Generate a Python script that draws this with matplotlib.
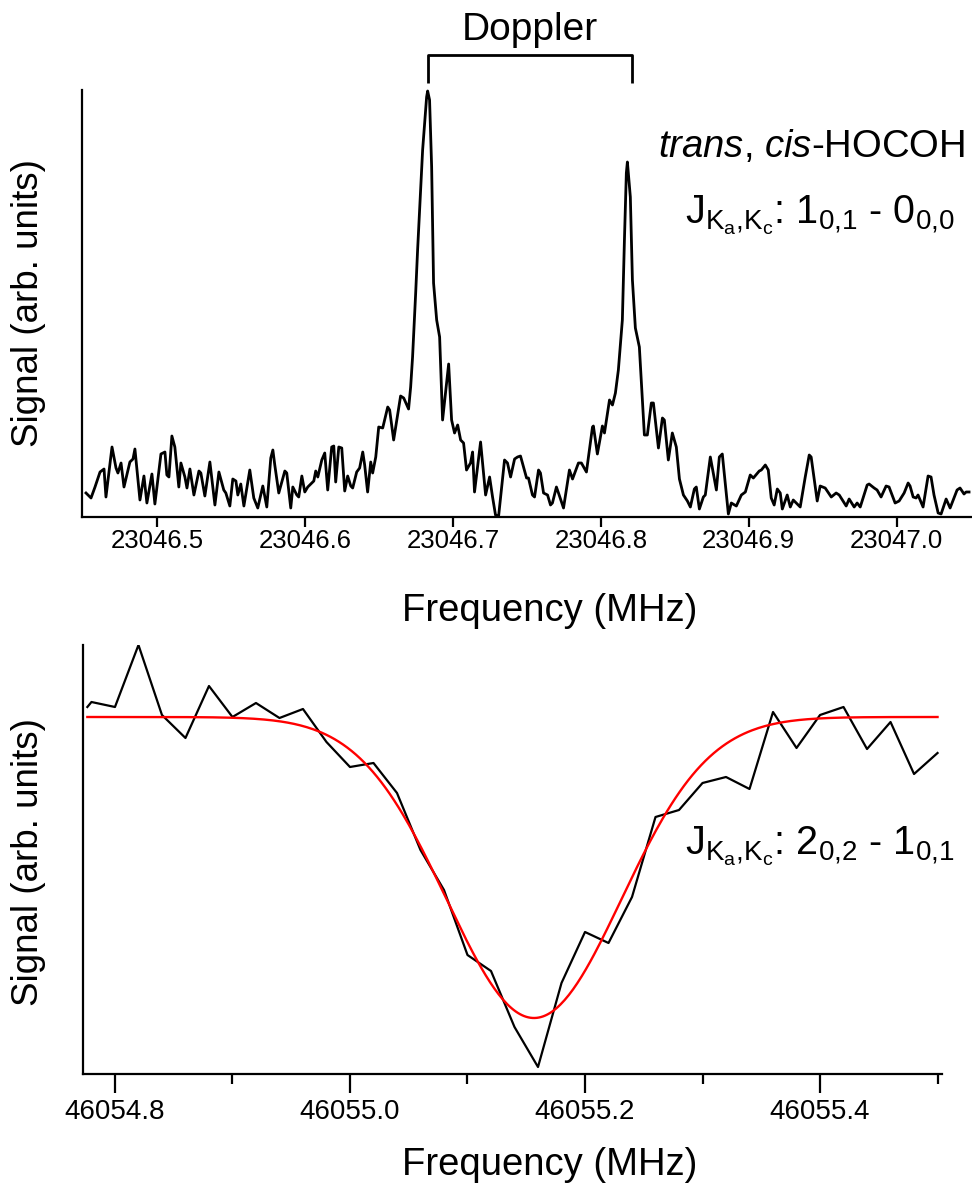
import numpy as np
import matplotlib
matplotlib.use('Agg')
import matplotlib.pyplot as plt
import matplotlib.transforms as mtransforms

plt.rcParams['font.family'] = ['Liberation Sans', 'DejaVu Sans']
plt.rcParams['mathtext.fontset'] = 'custom'
plt.rcParams['mathtext.rm'] = 'Liberation Sans'
plt.rcParams['mathtext.it'] = 'Liberation Sans:italic'

# ---- top panel: trans,cis-HOCOH 1(0,1)-0(0,0), offsets from 23046 MHz
top_base = 23046.0
top_offset = [
    .4517, .4551, .4578, .4612, .4639, .4652, .4693, .4720, .4733, .4754,
    .4774, .4814, .4835, .4848, .4882, .4909, .4929, .4963, .4983, .5024,
    .5051, .5064, .5078, .5098, .5118, .5145, .5159, .5186, .5200, .5220,
    .5247, .5281, .5294, .5321, .5355, .5389, .5416, .5449, .5463, .5490,
    .5510, .5531, .5544, .5564, .5585, .5625, .5652, .5679, .5713, .5740,
    .5767, .5781, .5794, .5821, .5862, .5875, .5902, .5916, .5943, .5956,
    .5977, .5997, .6017, .6044, .6058, .6071, .6085, .6112, .6132, .6152,
    .6179, .6193, .6206, .6227, .6247, .6267, .6287, .6308, .6321, .6348,
    .6368, .6389, .6402, .6422, .6443, .6456, .6477, .6497, .6524, .6558,
    .6571, .6598, .6645, .6666, .6699, .6713, .6726, .6747, .6760, .6794,
    .6821, .6828, .6841, .6855, .6868, .6889, .6909, .6929, .6970, .6990,
    .7010, .7031, .7051, .7071, .7091, .7118, .7132, .7145, .7186, .7220,
    .7247, .7267, .7287, .7308, .7348, .7368, .7389, .7416, .7436, .7456,
    .7497, .7510, .7537, .7551, .7578, .7591, .7612, .7639, .7659, .7672,
    .7699, .7713, .7747, .7787, .7808, .7848, .7868, .7902, .7943, .7949,
    .7976, .8010, .8024, .8058, .8078, .8098, .8118, .8145, .8159, .8172,
    .8179, .8199, .8213, .8233, .8260, .8294, .8314, .8341, .8355, .8382,
    .8389, .8416, .8429, .8456, .8483, .8510, .8531, .8558, .8585, .8605,
    .8632, .8645, .8666, .8693, .8706, .8740, .8781, .8801, .8821, .8862,
    .8882, .8916, .8950, .8977, .9010, .9031, .9071, .9085, .9112, .9132,
    .9152, .9172, .9193, .9213, .9227, .9260, .9281, .9301, .9321, .9348,
    .9382, .9409, .9422, .9463, .9483, .9517, .9558, .9591, .9612, .9659,
    .9679, .9713, .9733, .9754, .9801, .9814, .9848, .9868, .9895, .9929,
    .9949, .9990, 1.0017, 1.0051, 1.0078, 1.0091, 1.0112, 1.0132, 1.0145, 1.0179,
    1.0213, 1.0233, 1.0253, 1.0281, 1.0301, 1.0335, 1.0362, 1.0409, 1.0429, 1.0456,
    1.0470, 1.0490]
top_signal = [
    27, 22, 33, 48, 51, 23, 73, 52, 47, 57,
    33, 58, 61, 71, 20, 44, 17, 46, 16, 66,
    68, 45, 43, 84, 73, 33, 57, 43, 32, 51,
    25, 49, 47, 24, 58, 15, 48, 30, 27, 14,
    41, 39, 25, 36, 14, 50, 22, 12, 34, 13,
    62, 70, 55, 27, 49, 47, 12, 33, 25, 23,
    44, 28, 33, 37, 39, 49, 43, 60, 67, 30,
    73, 74, 38, 73, 72, 29, 44, 34, 32, 48,
    52, 68, 55, 28, 58, 47, 63, 93, 92, 113,
    110, 80, 124, 122, 111, 133, 163, 227, 270, 370,
    423, 429, 420, 353, 237, 200, 183, 100, 156, 100,
    87, 95, 80, 77, 50, 57, 68, 28, 78, 25,
    43, 23, 5, 4, 60, 57, 43, 61, 63, 64,
    42, 42, 25, 23, 50, 47, 27, 25, 15, 17,
    33, 27, 12, 50, 41, 57, 57, 48, 93, 94,
    66, 94, 87, 120, 115, 127, 150, 200, 280, 347,
    358, 323, 240, 192, 173, 85, 85, 117, 117, 82,
    72, 102, 100, 60, 87, 73, 41, 25, 19, 13,
    31, 33, 11, 23, 25, 63, 30, 63, 66, 6,
    17, 14, 25, 28, 45, 42, 49, 50, 55, 50,
    22, 15, 31, 27, 11, 25, 13, 20, 17, 13,
    43, 65, 63, 19, 34, 32, 23, 27, 25, 14,
    21, 13, 17, 13, 35, 36, 32, 30, 23, 34,
    33, 17, 19, 27, 37, 34, 23, 22, 25, 13,
    44, 43, 25, 7, 6, 21, 12, 30, 32, 26,
    28, 28]

top_ticks = [23046.5, 23046.6, 23046.7, 23046.8, 23046.9, 23047.0]
doppler_ends = [23046.683, 23046.821]

# ---- bottom panel: 2(0,2)-1(0,1), Lamb dip with Gaussian fit
bot_freq = [46054.7765, 46054.78, 46054.80, 46054.82, 46054.84, 46054.86, 46054.88,
            46054.90, 46054.92, 46054.94, 46054.96, 46054.98, 46055.00, 46055.02,
            46055.04, 46055.06, 46055.08, 46055.10, 46055.12, 46055.14, 46055.16,
            46055.18, 46055.20, 46055.22, 46055.24, 46055.26, 46055.28, 46055.30,
            46055.32, 46055.34, 46055.36, 46055.38, 46055.40, 46055.42, 46055.44,
            46055.46, 46055.48, 46055.50]
bot_signal = [367, 372, 367, 429, 359, 336, 388,
              357, 371, 356, 365, 332, 307, 311,
              281, 224, 184, 119, 103, 47, 7,
              91, 142, 131, 177, 257, 264, 291,
              297, 285, 362, 326, 359, 367, 325,
              352, 300, 321]

# gaussian fit parameters
fit_base = 357.0
fit_depth = 301.0
fit_center = 46055.1566
fit_sigma = 0.0743

bot_major = [46054.8, 46055.0, 46055.2, 46055.4]
bot_minor = [46054.9, 46055.1, 46055.3, 46055.5]

################################################################################
W, H = 972, 1188
fig = plt.figure(figsize=(W/100, H/100), dpi=100)

def px_box(left, top, right, bottom):
    return [left/W, 1 - bottom/H, (right-left)/W, (bottom-top)/H]

ax1 = fig.add_axes(px_box(82, 90, 972, 517))
ax2 = fig.add_axes(px_box(83, 645, 942, 1074))

freq_top = [top_base + f for f in top_offset]
ax1.plot(freq_top, top_signal, 'k-', lw=2.0, clip_on=False)
ax1.set_xlim(23046.449, 23047.051)
ax1.set_ylim(3, 430)
ax1.set_xticks(top_ticks)
ax1.set_xticklabels(['%.1f' % t for t in top_ticks])

ax2.plot(bot_freq, bot_signal, 'k-', lw=1.6)
fx = np.linspace(bot_freq[0], bot_freq[-1], 400)
fy = fit_base - fit_depth*np.exp(-(fx - fit_center)**2/(2*fit_sigma**2))
ax2.plot(fx, fy, color='red', lw=1.7)
ax2.set_xlim(46054.7728, 46055.5038)
ax2.set_ylim(0, 429)
ax2.set_xticks(bot_major)
ax2.set_xticklabels(['%.1f' % t for t in bot_major])
ax2.set_xticks(bot_minor, minor=True)

for ax in (ax1, ax2):
    ax.spines['top'].set_visible(False)
    ax.spines['right'].set_visible(False)
    ax.spines['left'].set_linewidth(1.6)
    ax.spines['bottom'].set_linewidth(1.6)
    ax.set_yticks([])
ax1.tick_params(axis='x', which='major', direction='out', length=7, width=1.6,
                labelsize=18.5, pad=2)
ax2.tick_params(axis='x', which='major', direction='out', length=14, width=1.6,
                labelsize=20, pad=4)
ax2.tick_params(axis='x', which='minor', direction='out', length=7, width=1.6)

# axis labels
fig.text(28/W, 1 - 303/H, 'Signal (arb. units)', rotation=90, ha='center',
         va='center', fontsize=26.5)
fig.text(28/W, 1 - 862/H, 'Signal (arb. units)', rotation=90, ha='center',
         va='center', fontsize=26.5)
fig.text(550/W, 1 - 611/H, 'Frequency (MHz)', ha='center', va='center', fontsize=27.5)
fig.text(550/W, 1 - 1165/H, 'Frequency (MHz)', ha='center', va='center', fontsize=27.5)

# Doppler bracket
trans = mtransforms.blended_transform_factory(ax1.transData, ax1.transAxes)
ax1.plot([doppler_ends[0], doppler_ends[0], doppler_ends[1], doppler_ends[1]],
         [1.0164, 1.082, 1.082, 1.0164], 'k-', lw=2.0, transform=trans,
         clip_on=False, solid_capstyle='butt')
ax1.text(np.mean(doppler_ends), 1.14, 'Doppler', transform=trans, ha='center',
         va='center', fontsize=28)

fig.text(965/W, 1 - 147/H, r'$\mathit{trans{,}\ cis}$-HOCOH', ha='right',
         va='center', fontsize=27.5)
fig.text(955/W, 1 - 215/H, r'J$_{\mathrm{K_a{,}K_c}}$: 1$_{0{,}1}$ - 0$_{0{,}0}$',
         ha='right', va='center', fontsize=28.5)
fig.text(955/W, 1 - 846/H, r'J$_{\mathrm{K_a{,}K_c}}$: 2$_{0{,}2}$ - 1$_{0{,}1}$',
         ha='right', va='center', fontsize=28.5)

fig.savefig('out.png', dpi=100)
